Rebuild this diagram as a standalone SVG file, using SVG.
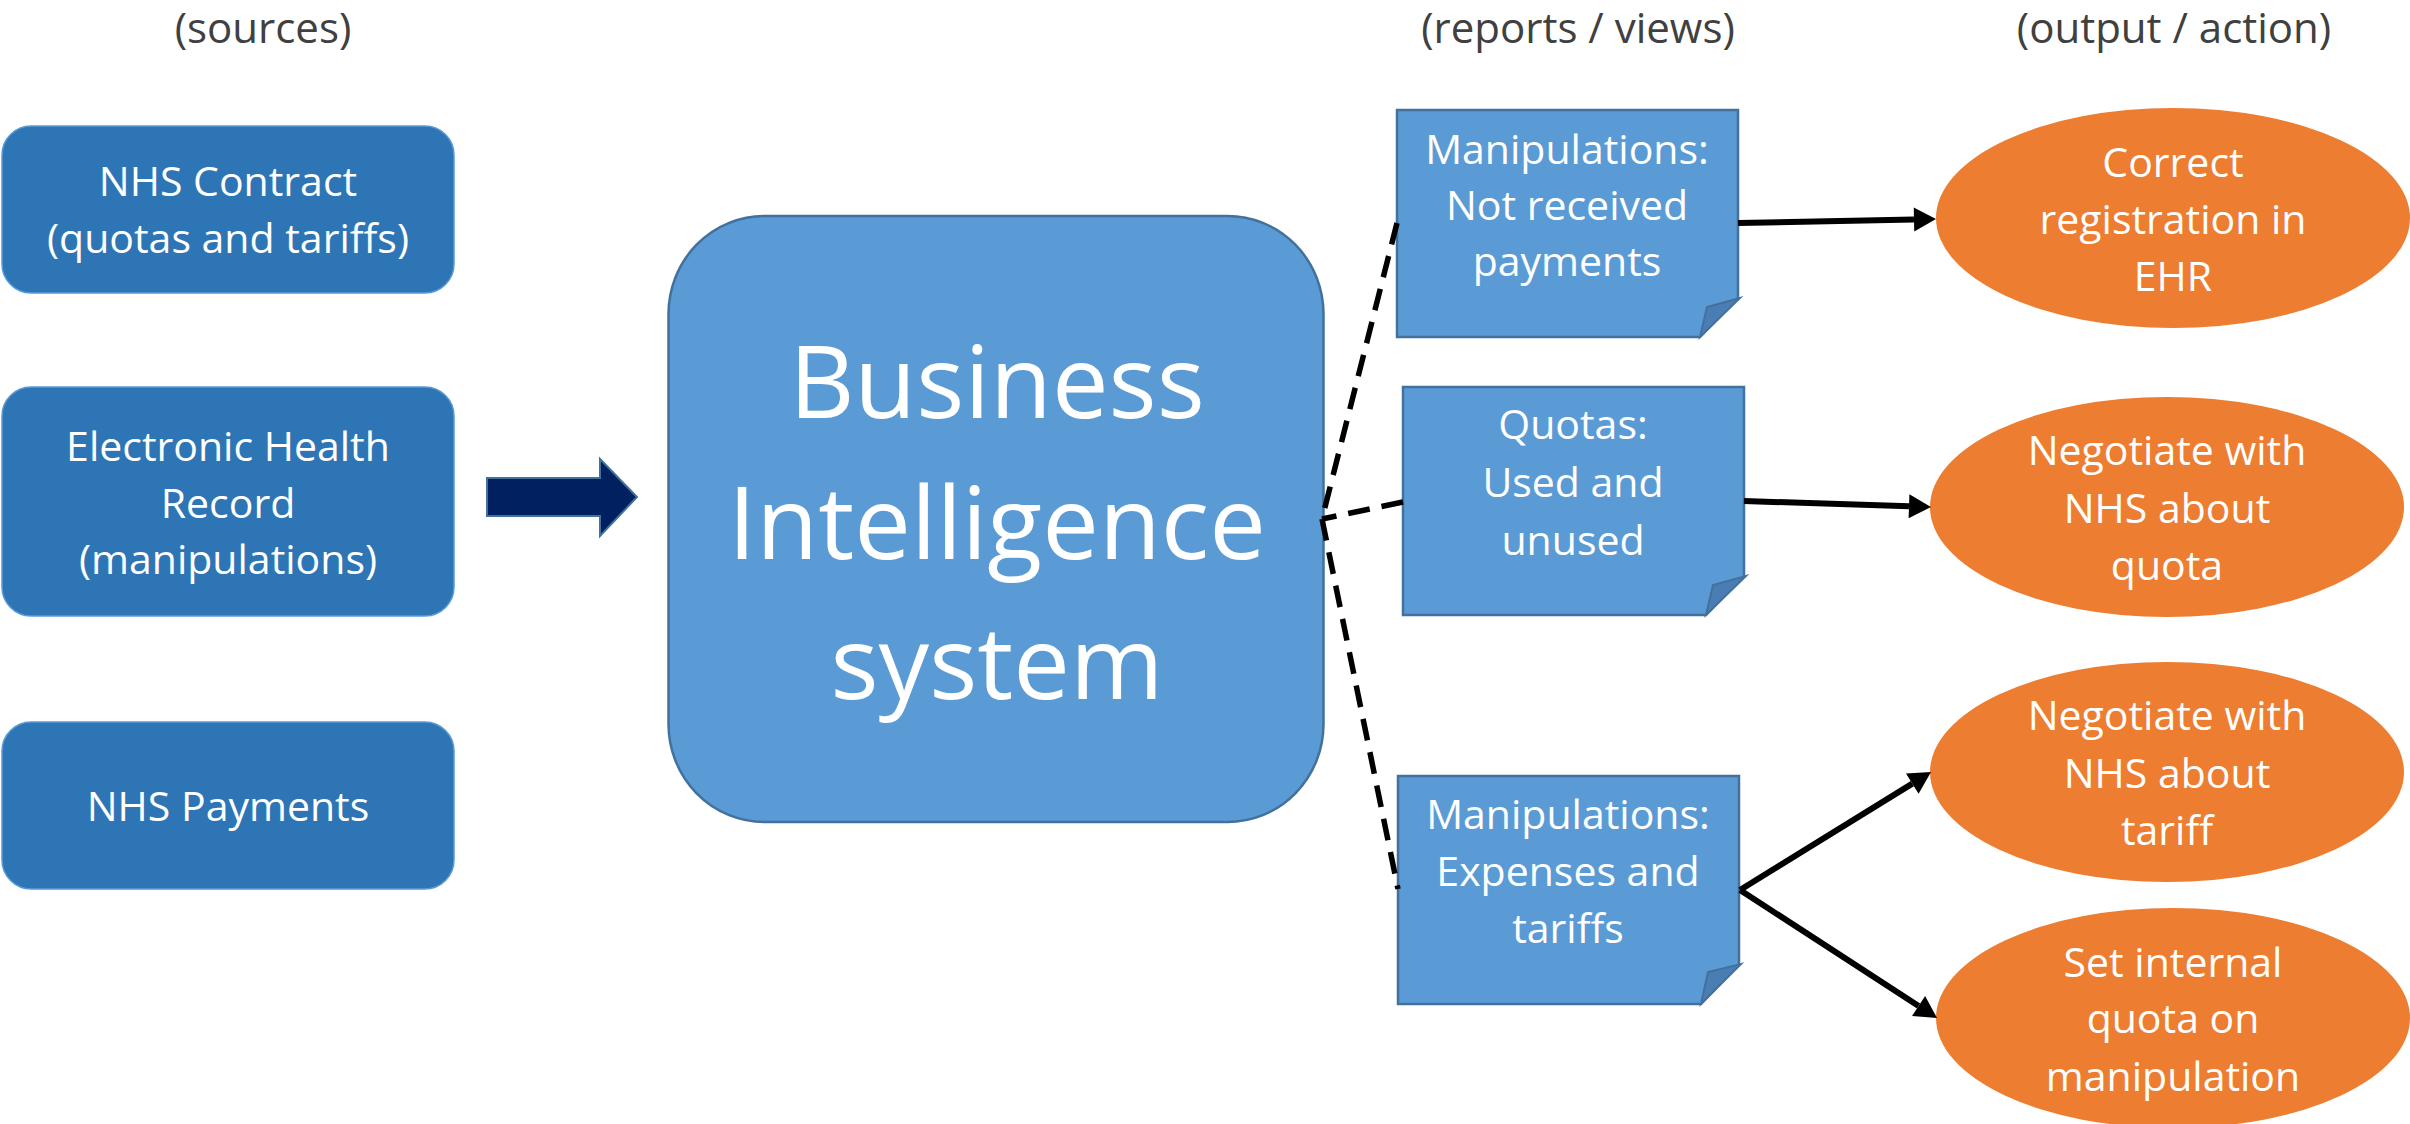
<svg xmlns="http://www.w3.org/2000/svg" width="2410" height="1124" viewBox="0 0 2410 1124">
<style>
.hdr{font-family:"Open Sans","Noto Sans",sans-serif;font-size:42px;fill:#404040;text-anchor:middle}
.t{font-family:"Open Sans","Noto Sans",sans-serif;font-size:41px;fill:#ffffff;text-anchor:middle}
.big{font-family:"Open Sans","Noto Sans",sans-serif;font-size:101px;fill:#ffffff;text-anchor:middle}
.src{fill:#2E75B6;stroke:#5B9BD5;stroke-width:1.5}
.note{fill:#5B9BD5;stroke:#41719C;stroke-width:2.5}
.fold{fill:#4A7DB3;stroke:#41719C;stroke-width:2}
.act{fill:#ED7D31}
.dash{fill:none;stroke:#000;stroke-width:5.5;stroke-dasharray:22 12}
.arr{fill:none;stroke:#000;stroke-width:6;marker-end:url(#ah)}
</style>
<defs>
<marker id="ah" markerUnits="userSpaceOnUse" markerWidth="24" markerHeight="26" refX="0" refY="12" orient="auto" overflow="visible">
<path d="M0,0 L22,12 L0,24 Z" fill="#000"/>
</marker>
</defs>

<text class="hdr" x="263" y="43">(sources)</text>
<text class="hdr" x="1578" y="43">(reports / views)</text>
<text class="hdr" x="2174" y="43">(output / action)</text>

<g id="src-contract">
<rect class="src" x="2" y="126" width="452" height="167" rx="29" ry="29"/>
<text class="t" x="228" y="196">NHS Contract</text>
<text class="t" x="228" y="253">(quotas and tariffs)</text>
</g>
<g id="src-ehr">
<rect class="src" x="2" y="387" width="452" height="229" rx="29" ry="29"/>
<text class="t" x="228" y="461">Electronic Health</text>
<text class="t" x="228" y="518">Record</text>
<text class="t" x="228" y="574">(manipulations)</text>
</g>
<g id="src-payments">
<rect class="src" x="2" y="722" width="452" height="167" rx="29" ry="29"/>
<text class="t" x="228" y="821">NHS Payments</text>
</g>

<g id="block-arrow">
<path d="M487,478 H600 V459 L637,497 L600,536 V516 H487 Z" fill="#002060" stroke="#41719C" stroke-width="2"/>
</g>

<g id="bi">
<rect x="668.5" y="216" width="655" height="606" rx="96" ry="98" fill="#5B9BD5" stroke="#41719C" stroke-width="2.5"/>
<text class="big" x="997" y="418">Business</text>
<text class="big" x="997" y="559">Intelligence</text>
<text class="big" x="997" y="699">system</text>
</g>

<g id="note-payments">
<path class="note" d="M1397,110 H1738 V298 L1700,337 H1397 Z"/>
<path class="fold" d="M1700,337 L1707,307 L1740,298 Z"/>
<text class="t" x="1567" y="164">Manipulations:</text>
<text class="t" x="1567" y="220">Not received</text>
<text class="t" x="1567" y="276">payments</text>
</g>
<g id="note-quotas">
<path class="note" d="M1403,387 H1744 V576 L1706,615 H1403 Z"/>
<path class="fold" d="M1706,615 L1713,585 L1746,576 Z"/>
<text class="t" x="1573" y="439">Quotas:</text>
<text class="t" x="1573" y="497">Used and</text>
<text class="t" x="1573" y="555">unused</text>
</g>
<g id="note-expenses">
<path class="note" d="M1398,776 H1739 V964 L1701,1004 H1398 Z"/>
<path class="fold" d="M1701,1004 L1708,972 L1741,964 Z"/>
<text class="t" x="1568" y="829">Manipulations:</text>
<text class="t" x="1568" y="886">Expenses and</text>
<text class="t" x="1568" y="943">tariffs</text>
</g>

<g id="act-ehr">
<ellipse class="act" cx="2173" cy="218" rx="237" ry="110"/>
<text class="t" x="2173" y="177">Correct</text>
<text class="t" x="2173" y="234">registration in</text>
<text class="t" x="2173" y="291">EHR</text>
</g>
<g id="act-quota">
<ellipse class="act" cx="2167" cy="507" rx="237" ry="110"/>
<text class="t" x="2167" y="465">Negotiate with</text>
<text class="t" x="2167" y="523">NHS about</text>
<text class="t" x="2167" y="580">quota</text>
</g>
<g id="act-tariff">
<ellipse class="act" cx="2167" cy="772" rx="237" ry="110"/>
<text class="t" x="2167" y="730">Negotiate with</text>
<text class="t" x="2167" y="788">NHS about</text>
<text class="t" x="2167" y="845">tariff</text>
</g>
<g id="act-internal">
<ellipse class="act" cx="2173" cy="1018" rx="237" ry="110"/>
<text class="t" x="2173" y="977">Set internal</text>
<text class="t" x="2173" y="1033">quota on</text>
<text class="t" x="2173" y="1091">manipulation</text>
</g>

<g id="connectors">
<path class="dash" d="M1397,223 L1322,519"/>
<path class="dash" d="M1403,502 L1322,519"/>
<path class="dash" d="M1322,519 L1398,889"/>
<path class="arr" d="M1738,223 L1914,219.4"/>
<path class="arr" d="M1744,501 L1909,506.3"/>
<path class="arr" d="M1740,890 L1912.3,783.6"/>
<path class="arr" d="M1740,890 L1918.6,1006"/>
</g>
</svg>
